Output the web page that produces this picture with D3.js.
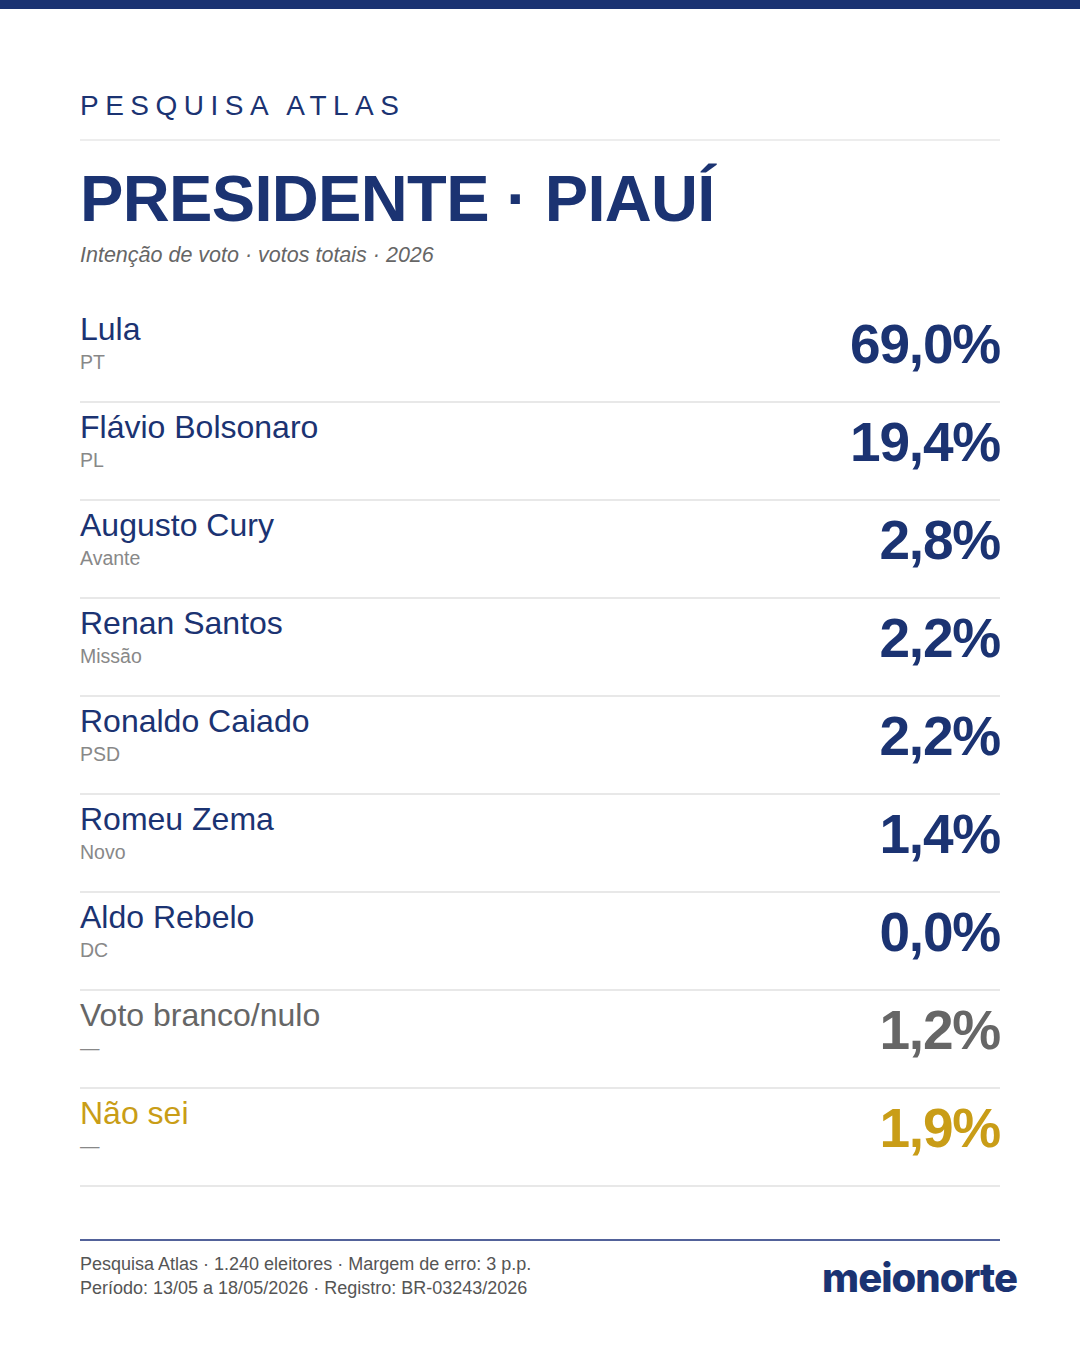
<!DOCTYPE html>
<html>
<head>
<meta charset="utf-8">
<script src="https://cdn.jsdelivr.net/npm/d3@7"></script>
<style>
  html, body { margin: 0; padding: 0; background: #fff; }
  svg { display: block; font-family: "Liberation Sans", Arial, sans-serif; }
</style>
</head>
<body>
<div id="chart"></div>
<script>
// poll data
var candidates = ["Lula", "Flávio Bolsonaro", "Augusto Cury", "Renan Santos", "Ronaldo Caiado",
    "Romeu Zema", "Aldo Rebelo", "Voto branco/nulo", "Não sei"];
var parties = ["PT", "PL", "Avante", "Missão", "PSD", "Novo", "DC", "—", "—"];
var values = [69.0, 19.4, 2.8, 2.2, 2.2, 1.4, 0.0, 1.2, 1.9];
var kinds = ["cand", "cand", "cand", "cand", "cand", "cand", "cand", "blank", "unsure"];

var footerLines = [
    "Pesquisa Atlas · 1.240 eleitores · Margem de erro: 3 p.p.",
    "Período: 13/05 a 18/05/2026 · Registro: BR-03243/2026"
];

var W = 1080, H = 1350;
var left = 80, right = 1000;

var colors = {
    navy: "#1b3372",
    rule: "#e8e8e8",
    party: "#888888",
    sub: "#666666",
    foot: "#555555",
    footRule: "#52629a",
    blank: "#666666",
    unsure: "#c99d17"
};

var nameColor = function (k) {
    if (k === "blank") return colors.blank;
    if (k === "unsure") return colors.unsure;
    return colors.navy;
};

var fmt = function (v) {
    return d3.format(".1f")(v).replace(".", ",") + "%";
};

var svg = d3.select("#chart").append("svg")
    .attr("width", W)
    .attr("height", H);

svg.append("rect").attr("width", W).attr("height", H).attr("fill", "#fff");

// top bar
svg.append("rect")
    .attr("x", 0).attr("y", 0)
    .attr("width", W).attr("height", 9)
    .attr("fill", colors.navy);

// header
svg.append("text")
    .attr("x", left).attr("y", 115)
    .attr("fill", colors.navy)
    .attr("font-size", 28)
    .attr("letter-spacing", "6.5px")
    .text("PESQUISA ATLAS");

svg.append("rect")
    .attr("x", left).attr("y", 139)
    .attr("width", right - left).attr("height", 2)
    .attr("fill", "#ededed");

svg.append("text")
    .attr("x", left).attr("y", 221)
    .attr("fill", colors.navy)
    .attr("font-size", 65)
    .attr("font-weight", 700)
    .attr("letter-spacing", "-0.65px")
    .text("PRESIDENTE · PIAUÍ");

svg.append("text")
    .attr("x", left).attr("y", 262)
    .attr("fill", colors.sub)
    .attr("font-size", 21.5)
    .attr("font-style", "italic")
    .text("Intenção de voto · votos totais · 2026");

// rows
var y = d3.scaleBand()
    .domain(d3.range(candidates.length))
    .range([304, 1186]);

var rows = svg.selectAll("g.row")
    .data(candidates.map(function (c, i) {
        return { name: c, party: parties[i], value: values[i], kind: kinds[i], i: i };
    }))
    .enter().append("g")
    .attr("class", "row")
    .attr("transform", function (d) { return "translate(0," + y(d.i) + ")"; });

rows.append("text")
    .attr("x", left).attr("y", 36)
    .attr("fill", function (d) { return nameColor(d.kind); })
    .attr("font-size", 32)
    .text(function (d) { return d.name; });

rows.append("text")
    .attr("x", left).attr("y", 65)
    .attr("fill", colors.party)
    .attr("font-size", 19.5)
    .text(function (d) { return d.party; });

rows.append("text")
    .attr("x", right).attr("y", 59)
    .attr("text-anchor", "end")
    .attr("fill", function (d) { return nameColor(d.kind); })
    .attr("font-size", 55)
    .attr("font-weight", 700)
    .attr("letter-spacing", "-1.2px")
    .text(function (d) { return fmt(d.value); });

rows.append("rect")
    .attr("x", left).attr("y", y.bandwidth() - 1)
    .attr("width", right - left).attr("height", 2)
    .attr("fill", colors.rule);

// footer
svg.append("rect")
    .attr("x", left).attr("y", 1239)
    .attr("width", right - left).attr("height", 2)
    .attr("fill", colors.footRule);

svg.selectAll("text.foot")
    .data(footerLines)
    .enter().append("text")
    .attr("class", "foot")
    .attr("x", left)
    .attr("y", function (d, i) { return 1270 + i * 24; })
    .attr("fill", colors.foot)
    .attr("font-size", 18)
    .text(function (d) { return d; });

// logo
svg.append("text")
    .attr("x", 1017).attr("y", 1292)
    .attr("text-anchor", "end")
    .attr("fill", colors.navy)
    .attr("font-family", "Inter, 'Noto Sans', sans-serif")
    .attr("font-size", 40)
    .attr("font-weight", 800)
    .attr("letter-spacing", "-1px")
    .text("meionorte");
</script>
</body>
</html>
